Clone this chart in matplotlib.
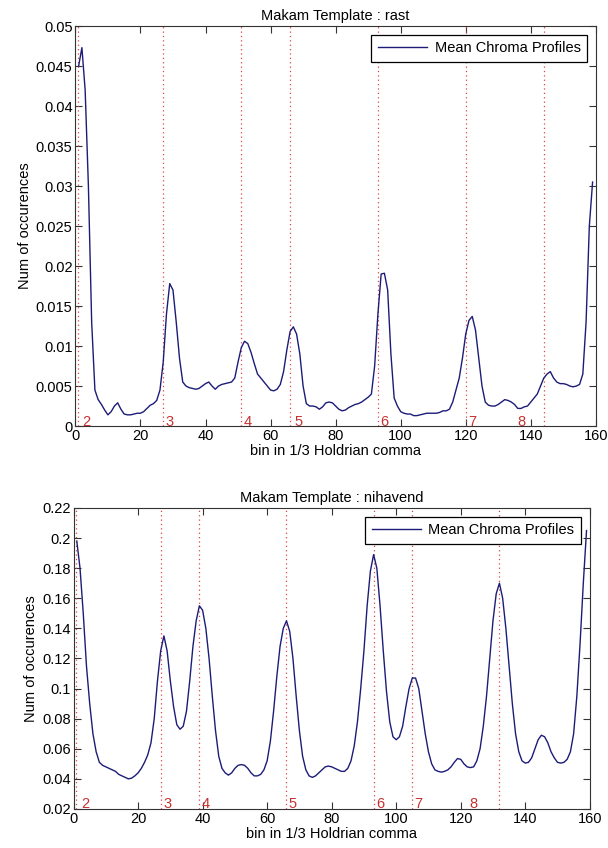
import numpy as np
import matplotlib.pyplot as plt

plt.rcParams['font.family'] = ['Liberation Sans', 'DejaVu Sans']

bins = np.arange(1, 160)

# makam rast, mean chroma profile
rast = [0.045, 0.0473, 0.042, 0.030, 0.013, 0.0045, 0.0033, 0.0027, 0.0020, 0.0014,
        0.0018, 0.0025, 0.0029, 0.0021, 0.0015, 0.0014, 0.0014, 0.0015, 0.0016, 0.0016,
        0.0018, 0.0022, 0.0026, 0.0028, 0.0032, 0.0045, 0.0080, 0.0140, 0.0178, 0.0170,
        0.0130, 0.0085, 0.0055, 0.0050, 0.0048, 0.0047, 0.0046, 0.0047, 0.0050, 0.0053,
        0.0055, 0.0050, 0.0046, 0.0050, 0.0052, 0.0053, 0.0054, 0.0055, 0.0060, 0.0080,
        0.0098, 0.0106, 0.0103, 0.0092, 0.0078, 0.0065, 0.0060, 0.0055, 0.0050, 0.0045,
        0.0044, 0.0046, 0.0052, 0.0068, 0.0095, 0.0118, 0.0124, 0.0115, 0.0090, 0.0050,
        0.0028, 0.0025, 0.0025, 0.0024, 0.0021, 0.0024, 0.0029, 0.0030, 0.0029, 0.0025,
        0.0021, 0.0019, 0.0020, 0.0023, 0.0025, 0.0027, 0.0028, 0.0030, 0.0033, 0.0036,
        0.0040, 0.0075, 0.0140, 0.0190, 0.0191, 0.0170, 0.0090, 0.0035, 0.0025, 0.0018,
        0.0016, 0.0015, 0.0015, 0.0013, 0.0013, 0.0014, 0.0015, 0.0016, 0.0016, 0.0016,
        0.0016, 0.0017, 0.0019, 0.0019, 0.0021, 0.0030, 0.0045, 0.0060, 0.0085, 0.0115,
        0.0132, 0.0137, 0.0120, 0.0085, 0.0050, 0.0030, 0.0026, 0.0025, 0.0025, 0.0027,
        0.0030, 0.0033, 0.0032, 0.0030, 0.0027, 0.0022, 0.0022, 0.0024, 0.0025, 0.0030,
        0.0035, 0.0040, 0.0050, 0.0060, 0.0065, 0.0068, 0.0060, 0.0055, 0.0053, 0.0053,
        0.0052, 0.0050, 0.0049, 0.0050, 0.0052, 0.0065, 0.0130, 0.0250, 0.0305]

# makam nihavend, mean chroma profile
nihavend = [0.198, 0.180, 0.150, 0.115, 0.090, 0.070, 0.058, 0.051, 0.049, 0.048,
            0.047, 0.046, 0.045, 0.043, 0.042, 0.041, 0.040, 0.0405, 0.042, 0.044,
            0.047, 0.051, 0.056, 0.064, 0.080, 0.105, 0.125, 0.135, 0.125, 0.105,
            0.088, 0.076, 0.073, 0.075, 0.085, 0.105, 0.128, 0.145, 0.155, 0.152,
            0.140, 0.120, 0.095, 0.072, 0.055, 0.047, 0.044, 0.0425, 0.044, 0.047,
            0.049, 0.0495, 0.049, 0.047, 0.044, 0.042, 0.042, 0.043, 0.046, 0.052,
            0.065, 0.085, 0.108, 0.128, 0.140, 0.145, 0.138, 0.120, 0.095, 0.072,
            0.055, 0.046, 0.042, 0.041, 0.042, 0.044, 0.046, 0.048, 0.0485, 0.048,
            0.047, 0.046, 0.045, 0.045, 0.047, 0.052, 0.062, 0.078, 0.100, 0.125,
            0.155, 0.178, 0.189, 0.180, 0.155, 0.125, 0.098, 0.078, 0.068, 0.066,
            0.068, 0.075, 0.088, 0.100, 0.107, 0.107, 0.100, 0.085, 0.070, 0.058,
            0.050, 0.046, 0.045, 0.0445, 0.045, 0.046, 0.048, 0.051, 0.0535, 0.053,
            0.050, 0.048, 0.0475, 0.048, 0.052, 0.060, 0.075, 0.095, 0.120, 0.145,
            0.163, 0.170, 0.160, 0.140, 0.115, 0.090, 0.070, 0.058, 0.052, 0.0505,
            0.051, 0.054, 0.060, 0.066, 0.069, 0.068, 0.064, 0.058, 0.054, 0.051,
            0.0505, 0.051, 0.053, 0.058, 0.070, 0.095, 0.130, 0.170, 0.205]

# note boundaries (red dotted lines) and the degree labels
rast_lines = [0.7, 27, 51, 66, 93, 120, 144]
rast_label_x = [3.5, 29, 53, 68.5, 95, 122, 137]
nihavend_lines = [0.7, 27, 39, 66, 93, 105, 132]
nihavend_label_x = [3.5, 29, 41, 68, 95, 107, 124]
degree_labels = ['2', '3', '4', '5', '6', '7', '8']

fig = plt.figure(figsize=(6.08, 8.48), dpi=100)
ax1 = fig.add_axes([0.124, 0.4976, 0.856, 0.4717])
ax2 = fig.add_axes([0.121, 0.046, 0.849, 0.355])


def draw(ax, y, lines, label_x, ylim, yticks, title, label_y):
    for xl in lines:
        ax.axvline(xl, color='#dd4444', linestyle=(0, (1, 2.5)), linewidth=0.9)
    for xt, t in zip(label_x, degree_labels):
        ax.text(xt, label_y, t, color='#c83030', fontsize=10.5, ha='center', va='bottom')
    ax.plot(bins, y, color='#1c1c78', linewidth=1.0, label='Mean Chroma Profiles')
    ax.set_xlim(0, 160)
    ax.set_ylim(*ylim)
    ax.set_xticks(np.arange(0, 161, 20))
    ax.set_yticks(yticks)
    ax.set_yticklabels(['%g' % v for v in yticks])
    ax.tick_params(direction='in', top=True, right=True, labelsize=10.5,
                   length=5, pad=2, color='#333333')
    for s in ax.spines.values():
        s.set_color('#333333')
    ax.set_title('Makam Template : ' + title, fontsize=10.5, pad=4)
    ax.set_xlabel('bin in 1/3 Holdrian comma', fontsize=10.5, labelpad=1)
    ax.set_ylabel('Num of occurences', fontsize=10.5, labelpad=3)
    leg = ax.legend(loc='upper right', fontsize=10.5, fancybox=False,
                    edgecolor='black', framealpha=1, handlelength=3.4,
                    handletextpad=0.5, borderpad=0.45, borderaxespad=0.6)
    leg.get_frame().set_linewidth(0.9)


draw(ax1, rast, rast_lines, rast_label_x, (0, 0.05),
     np.round(np.arange(0, 0.0501, 0.005), 3), 'rast', -0.0004)
draw(ax2, nihavend, nihavend_lines, nihavend_label_x, (0.02, 0.22),
     np.round(np.arange(0.02, 0.2201, 0.02), 2), 'nihavend', 0.0185)

fig.savefig('out.png', dpi=100)
